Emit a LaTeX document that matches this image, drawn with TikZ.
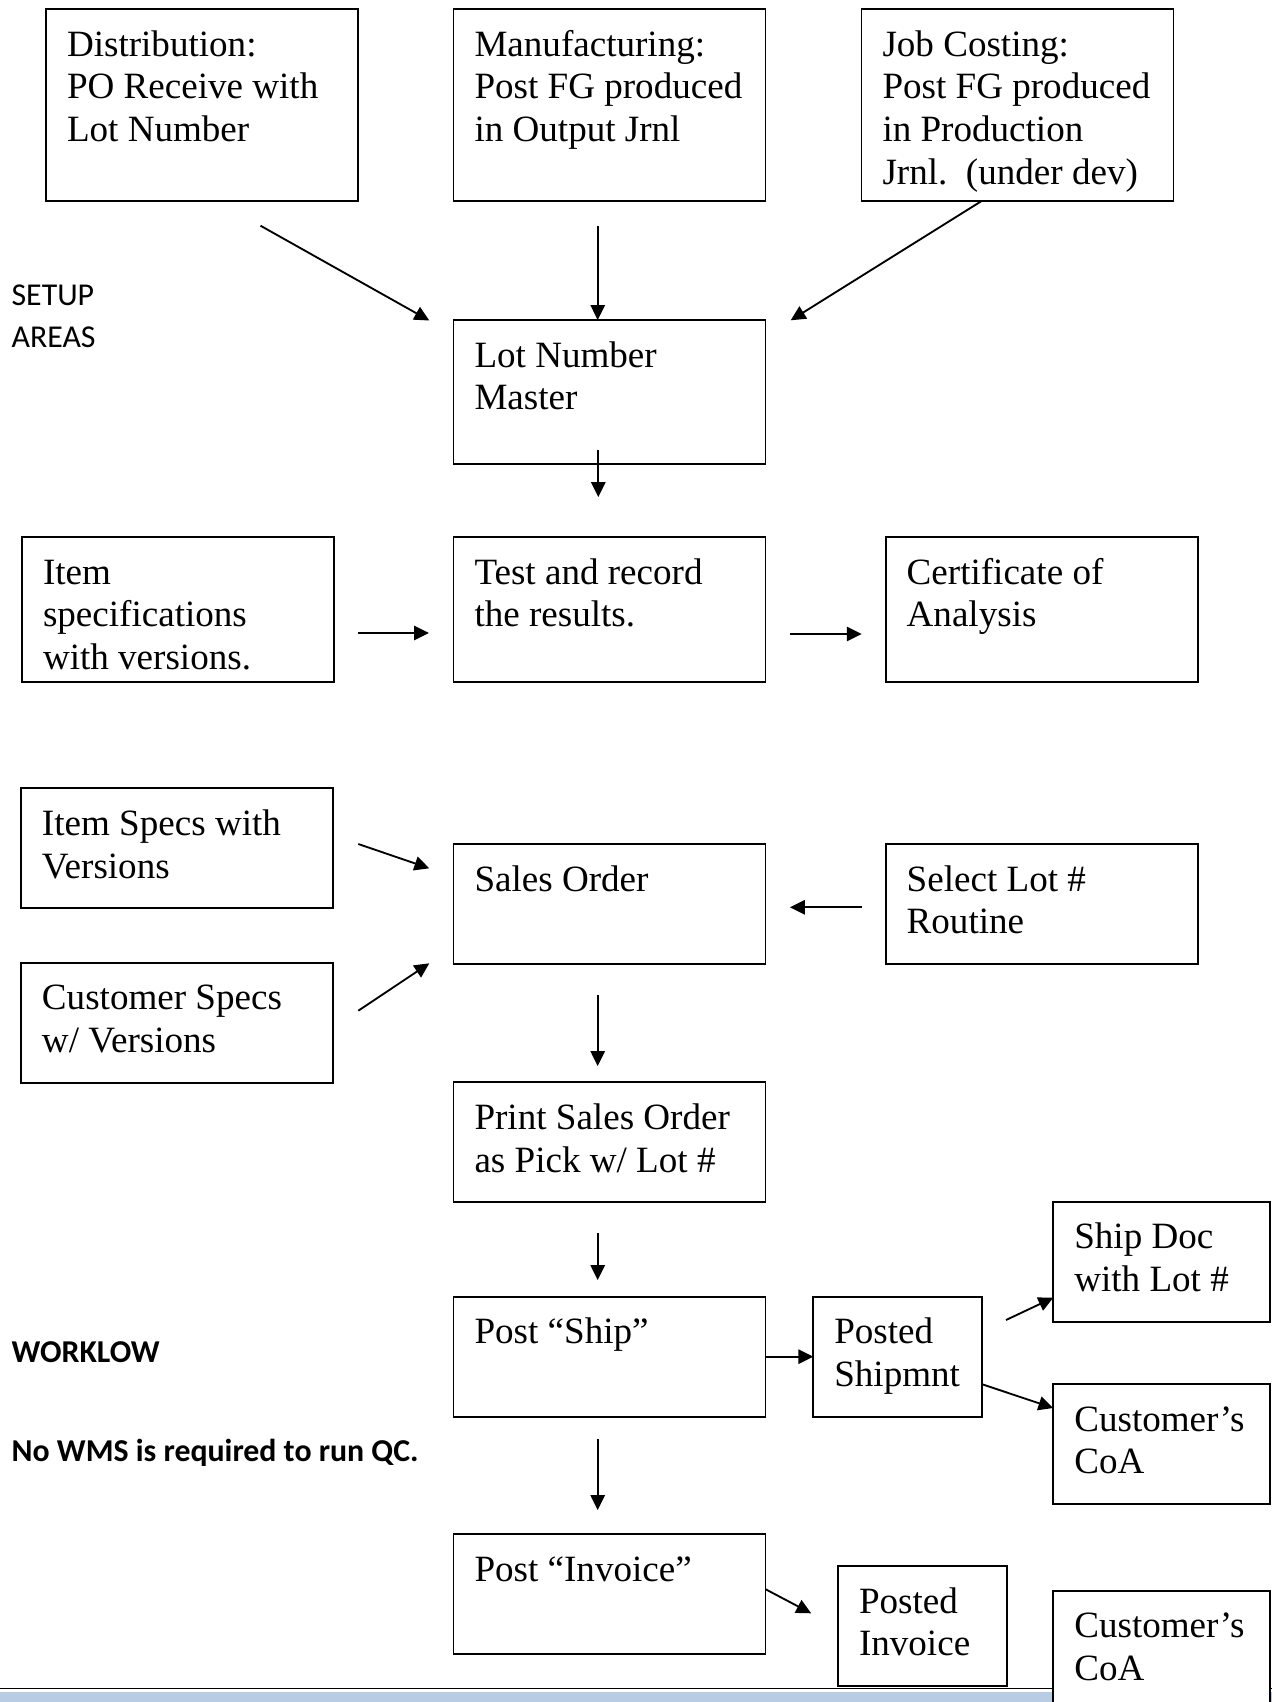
\documentclass[tikz,border=0pt]{standalone}
\usepackage{fontspec}
\setmainfont{Liberation Serif}
\newfontfamily\sidefam{Carlito}
\usepackage{xcolor}
\usepackage{tikz}
\usetikzlibrary{arrows.meta,positioning,calc}
\definecolor{bandblue}{RGB}{184,204,228}
\newdimen\upx \upx=0.3236pt
\newcommand\qfont{\fontsize{12}{13.9}\selectfont\hyphenpenalty=10000 }
\newcommand\sidefont{\sidefam\fontsize{10.3}{13.4}\selectfont}
\tikzset{
  qbox/.style={
    rectangle,
    draw=black,
    line width=0.6pt,
    fill=white,
    anchor=north west,
    inner xsep=21\upx,
    inner ysep=0pt,
    outer sep=0pt,
    align=flush left,
    font=\qfont,
    text height=47\upx
  },
  w312/.style={text width=270\upx},
  w217/.style={text width=175\upx},
  w169/.style={text width=127\upx},
  h192/.style={text depth=145\upx},
  h144/.style={text depth=97\upx},
  h145/.style={text depth=98\upx},
  h120/.style={text depth=73\upx},
  sidenote/.style={
    anchor=base west,
    inner sep=0pt,
    align=flush left,
    text width=440\upx,
    font=\sidefont
  },
  flow/.style={-{Triangle[length=4.8pt,width=4.6pt]}, line width=0.6pt}
}

\begin{document}
\begin{tikzpicture}[x=0.3236pt, y=-0.3236pt]
\useasboundingbox (0,0) rectangle (1272,1702);
\clip (0,0) rectangle (1272,1702);
% page foot
\fill[bandblue] (0,1691.7) rectangle (1272,1710);
\draw[line width=0.6pt] (0,1688.5) -- (1272,1688.5);

% setup areas
\node[qbox, w312, h192] (mfg) at (453.5,9) {Manufacturing:\\Post~FG~produced\\in Output Jrnl};
\node[qbox, w312, h192, left=95.5\upx of mfg] (dist) {Distribution:\\PO Receive with\\Lot Number};
\node[qbox, w312, h192, right=96\upx of mfg] (job) {Job Costing:\\Post~FG~produced\\in Production\\Jrnl.~~(under~dev)};
\node[qbox, w312, h144, below=119\upx of mfg] (lotmaster) {Lot Number\\Master};
\node[qbox, w312, h145, below=73\upx of lotmaster] (test) {Test and record\\the results.};
\node[qbox, w312, h145, left=119.5\upx of test] (itemspec) {Item\\specifications\\with versions.};
\node[qbox, w312, h145, right=120.2\upx of test] (cert) {Certificate of\\Analysis};

% workflow
\node[qbox, w312, h120, below=162\upx of test] (salesorder) {Sales Order};
\node[qbox, w312, h120, right=120.2\upx of salesorder] (selectlot) {Select Lot \#\\Routine};
\node[qbox, w312, h120] (itemver) at (21,788.3) {Item Specs with\\Versions};
\node[qbox, w312, h120] (custspec) at (21,962.7) {Customer Specs\\w/ Versions};
\node[qbox, w312, h120, below=118.3\upx of salesorder] (printso) {Print Sales Order\\as Pick w/ Lot \#};
\node[qbox, w312, h120, below=94.4\upx of printso] (postship) {Post “Ship”};
\node[qbox, w169, h120, right=47.8\upx of postship] (posted) {Posted\\Shipmnt};
\node[qbox, w217, h120] (shipdoc) at (1053.3,1201.7) {Ship Doc\\with Lot \#};
\node[qbox, w217, h120] (coa1) at (1053.3,1384) {Customer’s\\CoA};
\node[qbox, w312, h120, below=117.3\upx of postship] (postinv) {Post “Invoice”};
\node[qbox, w169, h120] (postedinv) at (838,1566) {Posted\\Invoice};
\node[qbox, w217, h120] (coa2) at (1053.3,1590.7) {Customer’s\\CoA};

% side notes
\node[sidenote] (setup) at (11,305.7) {SETUP\\AREAS};
\node[sidenote, font=\sidefont\bfseries] (workflow) at (11,1362.8) {WORKLOW};
\node[sidenote, font=\sidefont\bfseries] (nowms) at (11,1461) {No WMS is required to run QC.};

% loose arrow ends
\coordinate (a1s) at (260.5,225.7);
\coordinate (a1e) at (429.3,320.5);
\coordinate (a2s) at (597.7,225.7);
\coordinate (a3e) at (790.7,320.3);
\coordinate (a4s) at (598.3,450);
\coordinate (a4e) at (598.3,497);
\coordinate (a5s) at (358,633);
\coordinate (a5e) at (429,633);
\coordinate (a6s) at (790,634);
\coordinate (a6e) at (861.7,634);
\coordinate (a7s) at (358.3,844);
\coordinate (a7e) at (429.3,868.3);
\coordinate (a8s) at (358.3,1010.7);
\coordinate (a8e) at (429.3,963.3);
\coordinate (a9s) at (861.7,907.3);
\coordinate (a9e) at (790,907.3);
\coordinate (a10s) at (597.7,995);
\coordinate (a10e) at (597.7,1066);
\coordinate (a11s) at (597.7,1233.3);
\coordinate (a11e) at (597.7,1280);
\coordinate (a13s) at (1006,1320);
\coordinate (a15s) at (597.7,1439);
\coordinate (a15e) at (597.7,1510);
\coordinate (a16e) at (811.2,1613.3);

\draw[flow] (a1s) -- (a1e);
\draw[flow] (a2s) -- (a2s |- lotmaster.north);
\draw[flow] ($(job.south west)!0.385!(job.south east)$) -- (a3e);
\draw[flow] (a4s) -- (a4e);
\draw[flow] (a5s) -- (a5e);
\draw[flow] (a6s) -- (a6e);
\draw[flow] (a7s) -- (a7e);
\draw[flow] (a8s) -- (a8e);
\draw[flow] (a9s) -- (a9e);
\draw[flow] (a10s) -- (a10e);
\draw[flow] (a11s) -- (a11e);
\draw[flow] (postship.east) -- (posted.west);
\draw[flow] (a13s) -- ($(shipdoc.north west)!0.8!(shipdoc.south west)$);
\draw[flow] ($(posted.north east)!0.73!(posted.south east)$) -- ($(coa1.north west)!0.2!(coa1.south west)$);
\draw[flow] (a15s) -- (a15e);
\draw[flow] ($(postinv.north east)!0.46!(postinv.south east)$) -- (a16e);
\end{tikzpicture}
\end{document}
